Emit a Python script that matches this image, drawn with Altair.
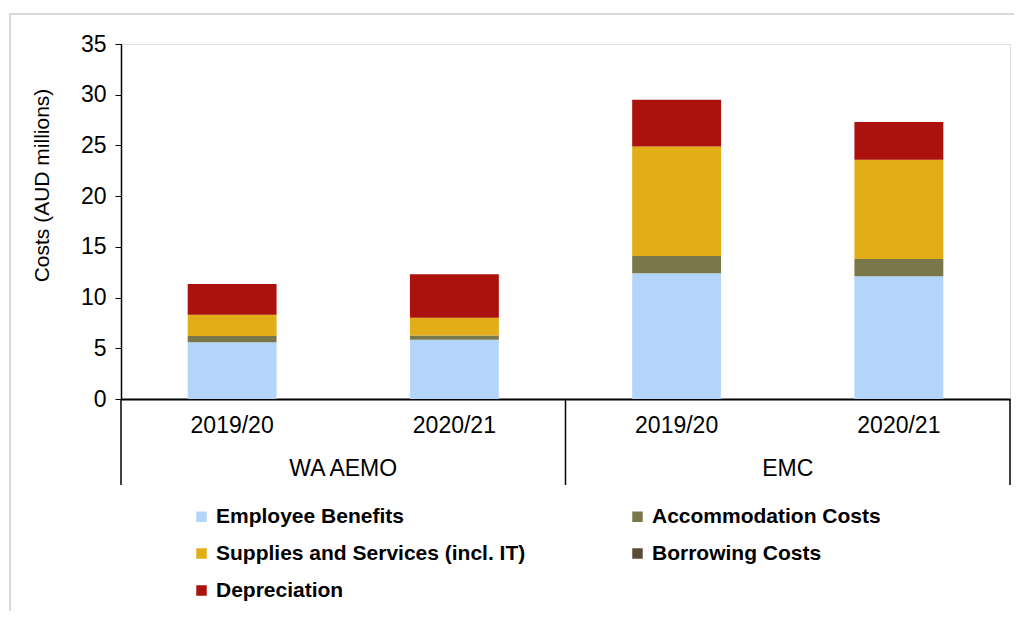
import altair as alt
import pandas as pd

groups = ["WA AEMO", "WA AEMO", "EMC", "EMC"]
years = ["2019/20", "2020/21", "2019/20", "2020/21"]
series = ["Employee Benefits", "Accommodation Costs", "Supplies and Services (incl. IT)",
          "Borrowing Costs", "Depreciation"]
employee = [5.6, 5.85, 12.4, 12.1]
accommodation = [0.6, 0.4, 1.7, 1.7]
supplies = [2.1, 1.75, 10.8, 9.8]
borrowing = [0.0, 0.0, 0.0, 0.0]
depreciation = [3.05, 4.3, 4.6, 3.7]
colors = ["#b3d5f9", "#7a784a", "#e2ae17", "#5a4b36", "#ab110d"]
legend_order = ["Employee Benefits", "Supplies and Services (incl. IT)", "Depreciation",
                "Accommodation Costs", "Borrowing Costs"]
y_ticks = [0, 5, 10, 15, 20, 25, 30, 35]
group_names = ["WA AEMO", "EMC"]
group_centers = [1, 3]
separators = [0, 2, 4]

values_by_series = [employee, accommodation, supplies, borrowing, depreciation]
keys = [g + "|" + y for g, y in zip(groups, years)]
rows = []
for si, (s, vals) in enumerate(zip(series, values_by_series)):
    for k, v in zip(keys, vals):
        rows.append({"key": k, "series": s, "value": v, "idx": si})
df = pd.DataFrame(rows)

color_of = dict(zip(series, colors))
legend_colors = [color_of[s] for s in legend_order]

W, H = 889, 355
FONT = "Liberation Sans"

bars = alt.Chart(df).mark_bar().encode(
    x=alt.X("key:N", sort=keys,
            scale=alt.Scale(paddingInner=0.6, paddingOuter=0.3),
            axis=alt.Axis(title=None, labelExpr="split(datum.label, '|')[1]",
                          ticks=False, labelAngle=0, labelFontSize=23,
                          labelPadding=15, labelColor="black", labelFont=FONT,
                          domainColor="black", domainWidth=2)),
    y=alt.Y("value:Q", stack="zero",
            scale=alt.Scale(domain=[0, 35], nice=False),
            axis=alt.Axis(title="Costs (AUD millions)", values=y_ticks, grid=False,
                          labelFontSize=23, labelColor="black", labelFont=FONT,
                          labelPadding=9, tickSize=6, tickColor="black",
                          domainColor="black", domainWidth=1.5,
                          titleFontSize=21, titleFontWeight="normal", titleFont=FONT,
                          titleColor="black", titlePadding=28, titleY=141)),
    color=alt.Color("series:N",
                    scale=alt.Scale(domain=legend_order, range=legend_colors),
                    legend=alt.Legend(title=None, orient="none", legendX=70, legendY=462,
                                      columns=2, columnPadding=101, rowPadding=15,
                                      symbolType="square", symbolSize=110,
                                      symbolStrokeWidth=0, labelFontSize=21,
                                      labelFontWeight="bold", labelFont=FONT,
                                      labelLimit=600, labelOffset=4, labelColor="black")),
    order=alt.Order("idx:Q"),
)

sep_df = pd.DataFrame({"pos": separators})
seps = alt.Chart(sep_df).mark_rule(color="black", strokeWidth=1.5).encode(
    x=alt.X("pos:Q", scale=alt.Scale(domain=[0, 4], nice=False), axis=None),
    y=alt.value(H),
    y2=alt.value(H + 86),
)

grp_df = pd.DataFrame({"pos": group_centers, "name": group_names})
grp_text = alt.Chart(grp_df).mark_text(fontSize=23, font=FONT, color="black",
                                        baseline="middle").encode(
    x=alt.X("pos:Q", scale=alt.Scale(domain=[0, 4], nice=False), axis=None),
    y=alt.value(H + 70),
    text="name:N",
)

border = alt.Chart(pd.DataFrame({"a": [0]})).mark_rect(
    fillOpacity=0, stroke="#d9d9d9", strokeWidth=2).encode(
    x=alt.value(-111), x2=alt.value(W + 300), y=alt.value(-30), y2=alt.value(H + 300))

chart = alt.layer(border, bars, seps, grp_text).resolve_scale(x="independent").properties(
    width=W, height=H,
    autosize=alt.AutoSizeParams(type="none"),
    padding={"left": 113, "top": 44 - 8, "right": 4, "bottom": 212},
).configure_view(stroke=None).configure(background="white")

chart.save("out.html", embed_options={"renderer": "svg", "actions": False})
